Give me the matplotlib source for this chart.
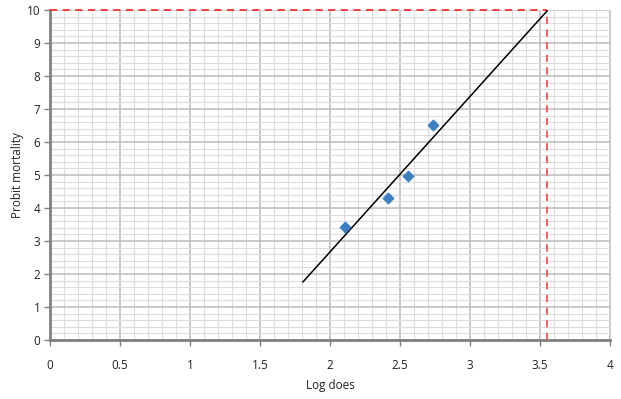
import matplotlib
matplotlib.use("Agg")
import matplotlib.pyplot as plt
import numpy as np
from matplotlib.ticker import MultipleLocator, FuncFormatter

log_dose = [2.107, 2.414, 2.557, 2.736]
probit = [3.42, 4.30, 4.97, 6.52]
fit_x = [1.807, 3.55]
fit_y = [1.76, 9.97]
ref_x = 3.55
ref_y = 10

plt.rcParams['font.family'] = ['Open Sans', 'DejaVu Sans']
fig = plt.figure(figsize=(6.21, 3.99), dpi=100)
ax = fig.add_axes([50/621, 1-340/399, 560/621, 330/399])
ax.set_xlim(0, 4)
ax.set_ylim(0, 10)
ax.xaxis.set_major_locator(MultipleLocator(0.5))
ax.xaxis.set_minor_locator(MultipleLocator(0.1))
ax.yaxis.set_major_locator(MultipleLocator(1))
ax.yaxis.set_minor_locator(MultipleLocator(0.2))
ax.xaxis.set_major_formatter(FuncFormatter(lambda v, p: f"{v:g}"))
ax.yaxis.set_major_formatter(FuncFormatter(lambda v, p: f"{v:g}"))
ax.grid(which='major', color='#c0c0c0', lw=1.2)
ax.grid(which='minor', color='#dcdcdc', lw=0.8)
ax.set_axisbelow(True)
for s in ['top', 'right']:
    ax.spines[s].set_color('#d0d0d0')
    ax.spines[s].set_linewidth(0.8)
for s in ['left', 'bottom']:
    ax.spines[s].set_color('#808080')
    ax.spines[s].set_linewidth(2)
ax.tick_params(which='major', length=4, width=1, color='#808080', labelsize=8.5)
ax.tick_params(axis='x', pad=10, labelcolor='#222222')
ax.tick_params(axis='y', labelcolor='#222222', pad=3)
ax.tick_params(which='minor', length=0)
ax.plot([0, ref_x], [ref_y, ref_y], color='#ee3333', ls=(0, (4, 3)), lw=1.3, zorder=3, clip_on=False)
ax.plot([ref_x, ref_x], [0, ref_y], color='#ee5555', ls=(0, (4, 3)), lw=1.3, zorder=3)
ax.plot(fit_x, fit_y, color='black', lw=1.1, zorder=4)
ax.scatter(log_dose, probit, marker='D', s=28, color='#3d7ebf', zorder=5)
ax.set_xlabel('Log does', fontsize=8.5, color='#222222')
ax.set_ylabel('Probit mortality', fontsize=8.5, color='#222222')
ax.yaxis.set_label_coords(-(50-18)/560, 0.5)
ax.xaxis.set_label_coords(0.5, -(386-340)/330)
ax.yaxis.label.set_va('center')
ax.xaxis.label.set_va('center')
fig.savefig('out.png', dpi=100)
